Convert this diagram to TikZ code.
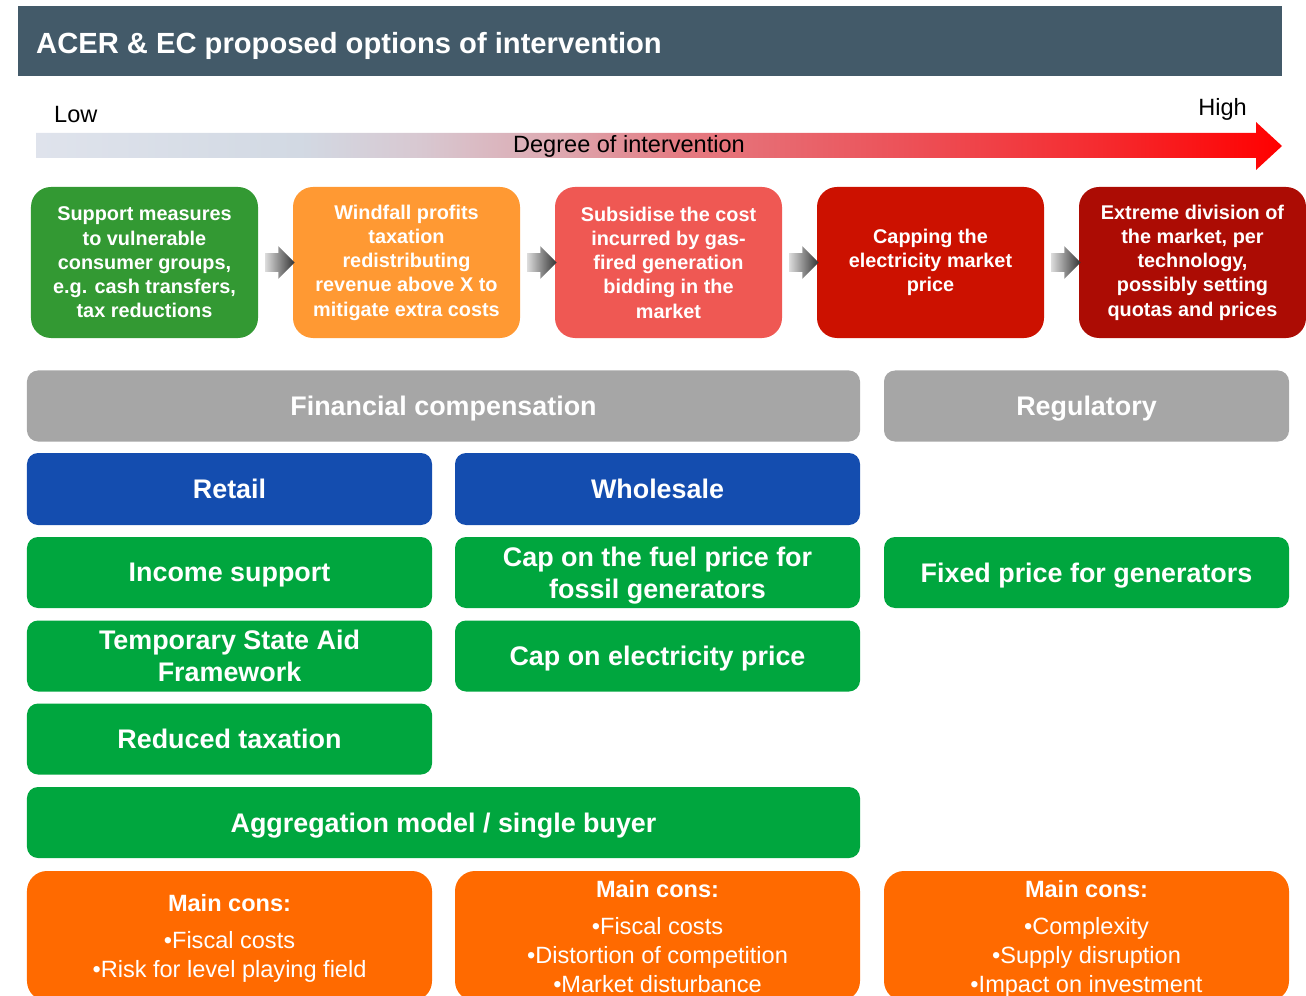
\documentclass[tikz,border=0pt]{standalone}
\usepackage{fontspec}
\setmainfont{Liberation Sans}
\usetikzlibrary{shapes.arrows,calc}

\definecolor{headslate}{HTML}{435A69}
\definecolor{lowgrey}{HTML}{DFE3EC}
\definecolor{lowblue}{HTML}{D2D9E3}
\definecolor{midrose}{HTML}{D8C8D1}
\definecolor{midpink}{HTML}{DDA8B0}
\definecolor{warmred}{HTML}{E47B82}
\definecolor{hotred}{HTML}{EC5259}
\definecolor{firered}{HTML}{F52B2F}
\definecolor{fullred}{HTML}{FF0000}
\definecolor{optgreen}{HTML}{339933}
\definecolor{optorange}{HTML}{FF9933}
\definecolor{optsalmon}{HTML}{EF5853}
\definecolor{optred}{HTML}{CC1100}
\definecolor{optdark}{HTML}{AC0C04}
\definecolor{groupgrey}{HTML}{A6A6A6}
\definecolor{marketblue}{HTML}{144DAF}
\definecolor{measuregreen}{HTML}{00A63E}
\definecolor{consorange}{HTML}{FF6A00}

\pgfdeclarehorizontalshading{degree}{100bp}{
  color(0bp)=(lowgrey); color(25bp)=(lowgrey); color(35.6bp)=(lowblue);
  color(40.4bp)=(midrose); color(46bp)=(midpink); color(50.8bp)=(warmred);
  color(59.7bp)=(hotred); color(67.7bp)=(firered); color(75bp)=(fullred);
  color(100bp)=(fullred)}

\begin{document}
\begin{tikzpicture}[
    x = 0.2mm,
    y = -0.2mm,
    headbar/.style = {
      fill = headslate,
      minimum width = 252.8mm,
      minimum height = 14mm
    },
    scaletext/.style = {
      font = \fontsize{13.4}{16}\selectfont
    },
    optbox/.style = {
      rounded corners = 4mm,
      text = white,
      align = center,
      minimum width = 45.4mm,
      minimum height = 30.2mm,
      font = \bfseries\fontsize{11.3}{13.8}\selectfont
    },
    optarrow/.style = {
      single arrow,
      single arrow head extend = 1.4mm,
      inner xsep = 0pt,
      inner ysep = 1.8mm,
      minimum height = 5.8mm,
      minimum width = 6.4mm,
      left color = black!15,
      right color = black!80
    },
    bar/.style = {
      rounded corners = 2.2mm,
      text = white,
      align = center,
      text depth = 0pt,
      minimum height = 14.2mm,
      font = \bfseries\fontsize{15.3}{18.2}\selectfont
    },
    half/.style = {minimum width = 81mm},
    full/.style = {minimum width = 166.6mm},
    group/.style = {bar, fill = groupgrey},
    market/.style = {bar, fill = marketblue, minimum height = 14.4mm},
    measure/.style = {bar, fill = measuregreen},
    cons/.style = {
      half,
      rounded corners = 4mm,
      fill = consorange,
      text = white,
      align = center,
      text depth = 0pt,
      minimum height = 26mm,
      font = \fontsize{13.4}{16.5}\selectfont
    }
  ]
  \useasboundingbox (0,0) rectangle (1306,996);
  \clip (0,0) rectangle (1306,996);

  \node[headbar] (head) at (650,41) {};
  \node[anchor=west, text=white, text depth=0pt, font=\bfseries\fontsize{16.6}{20}\selectfont] (title) at (30,43)
    {ACER \& EC proposed options of intervention};

  \shade[shading=degree] (36,133) -- (1256,133) -- (1256,122) -- (1282,146)
    -- (1256,170) -- (1256,158) -- (36,158) -- cycle;
  \node[scaletext, anchor=base west] (low) at (48,123) {Low};
  \node[scaletext, anchor=base east] (high) at (1253,116) {High};
  \node[scaletext, anchor=base] (degree) at (629,153) {Degree of intervention};

  \node[optbox, fill=optgreen] (s1) at (144.5,262.5)
    {Support measures\\to vulnerable\\consumer groups,\\e.g. cash transfers,\\tax reductions};
  \node[optbox, fill=optorange] (s2) at (406.5,262.5)
    {Windfall profits\\taxation\\redistributing\\revenue above X to\\mitigate extra costs};
  \node[optbox, fill=optsalmon] (s3) at (668.5,262.5)
    {Subsidise the cost\\incurred by gas-\\fired generation\\bidding in the\\market};
  \node[optbox, fill=optred] (s4) at (930.5,262.5)
    {Capping the\\electricity market\\price};
  \node[optbox, fill=optdark] (s5) at (1192.5,262.5)
    {Extreme division of\\the market, per\\technology,\\possibly setting\\quotas and prices};

  \foreach \i in {1,...,4} {
    \pgfmathtruncatemacro{\j}{\i+1}
    \node[optarrow] (a\i) at ($(s\i.east)!0.5!(s\j.west)$) {};
  }

  \node[group, full] (fin) at (443.5,406) {Financial compensation};
  \node[group, half] (reg) at (1086.5,406) {Regulatory};

  \node[market, half] (retail) at (229.5,489) {Retail};
  \node[market, half] (whole) at (657.5,489) {Wholesale};

  \node[measure, half] (income) at (229.5,572.5) {Income support};
  \node[measure, half] (fuel) at (657.5,572.5) {Cap on the fuel price for\\fossil generators};
  \node[measure, half] (fixed) at (1086.5,572.5) {Fixed price for generators};

  \node[measure, half] (aid) at (229.5,656) {Temporary State Aid\\Framework};
  \node[measure, half] (elec) at (657.5,656) {Cap on electricity price};

  \node[measure, half] (tax) at (229.5,739) {Reduced taxation};

  \node[measure, full] (aggr) at (443.5,822.5) {Aggregation model / single buyer};

  \node[cons] (c1) at (229.5,936)
    {\textbf{Main cons:}\\[1.6mm]•Fiscal costs\\•Risk for level playing field};
  \node[cons] (c2) at (657.5,936)
    {\textbf{Main cons:}\\[1.6mm]•Fiscal costs\\•Distortion of competition\\•Market disturbance};
  \node[cons] (c3) at (1086.5,936)
    {\textbf{Main cons:}\\[1.6mm]•Complexity\\•Supply disruption\\•Impact on investment};
\end{tikzpicture}
\end{document}
